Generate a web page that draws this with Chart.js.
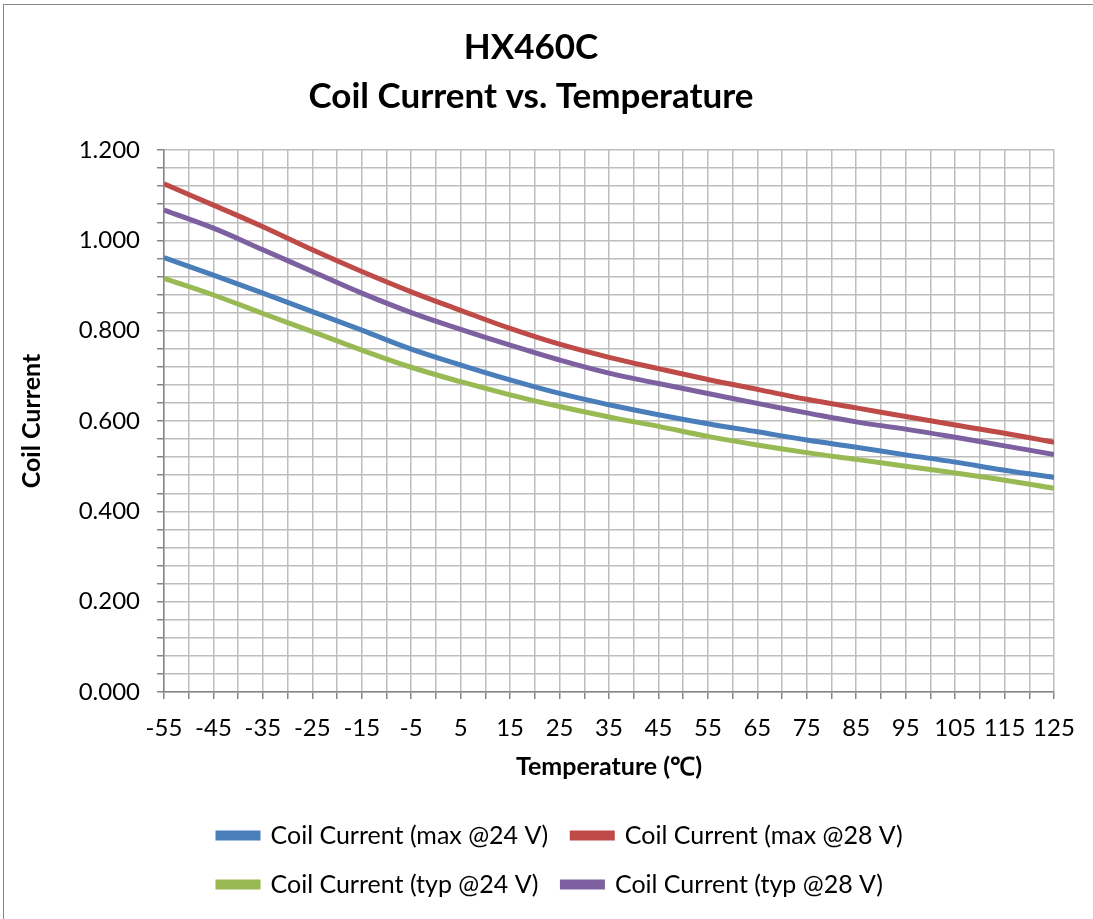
<!DOCTYPE html>
<html>
<head>
<meta charset="utf-8">
<script src="https://cdn.jsdelivr.net/npm/chart.js@4/dist/chart.umd.min.js"></script>
<style>
  html, body { margin: 0; padding: 0; background: #fff; }
  #wrap { position: relative; width: 1093px; height: 919px; }
</style>
</head>
<body>
<div id="wrap"><canvas id="chart" width="1093" height="919"></canvas></div>
<script>
// Temperatures (°C) where values were read
const temps = [-55, -45, -35, -25, -15, -5, 5, 15, 25, 35, 45, 55, 65, 75, 85, 95, 105, 115, 125];

// Coil current readings
const maxAt24 = [0.962, 0.923, 0.883, 0.842, 0.801, 0.759, 0.724, 0.691, 0.661, 0.636, 0.614, 0.594, 0.576, 0.558, 0.542, 0.525, 0.509, 0.491, 0.475];
const maxAt28 = [1.125, 1.078, 1.030, 0.979, 0.931, 0.886, 0.845, 0.805, 0.770, 0.741, 0.716, 0.692, 0.670, 0.648, 0.629, 0.610, 0.591, 0.573, 0.553];
const typAt24 = [0.916, 0.879, 0.838, 0.798, 0.757, 0.719, 0.687, 0.658, 0.632, 0.609, 0.588, 0.566, 0.547, 0.530, 0.515, 0.500, 0.485, 0.469, 0.451];
const typAt28 = [1.067, 1.027, 0.979, 0.931, 0.883, 0.840, 0.803, 0.768, 0.735, 0.706, 0.683, 0.661, 0.639, 0.618, 0.598, 0.582, 0.564, 0.545, 0.526];

const seriesNames = ['Coil Current (max @24 V)', 'Coil Current (max @28 V)', 'Coil Current (typ @24 V)', 'Coil Current (typ @28 V)'];
const seriesColors = ['#4a7ebb', '#be4b48', '#98b954', '#7d60a0'];
const titleLines = ['HX460C', 'Coil Current vs. Temperature'];

const FONT = 'Lato, "Open Sans", sans-serif';
const AXIS = '#868686';
const GRID = '#bdbdbd';

function toPoints(values) {
  return values.map((v, i) => ({ x: temps[i], y: v }));
}

// outer frame of the chart object
const framePlugin = {
  id: 'frame',
  beforeDraw(chart) {
    const { ctx } = chart;
    ctx.save();
    ctx.fillStyle = '#fff';
    ctx.fillRect(0, 0, chart.width, chart.height);
    ctx.strokeStyle = '#888';
    ctx.lineWidth = 1;
    ctx.strokeRect(3.5, 4.5, chart.width + 20, chart.height + 20);
    ctx.restore();
  }
};

// legend rows start at the same x, right of the plot's left edge
const legendShift = {
  id: 'legendShift',
  afterLayout(chart) {
    const lg = chart.legend;
    if (!lg) return;
    lg.left += 186;
    lg.right += 186;
  }
};

new Chart(document.getElementById('chart'), {
  type: 'line',
  data: {
    datasets: [maxAt24, maxAt28, typAt24, typAt28].map((vals, i) => ({
      label: seriesNames[i],
      data: toPoints(vals),
      borderColor: seriesColors[i],
      backgroundColor: seriesColors[i],
      borderWidth: 5,
      pointRadius: 0,
      tension: 0.4,
      fill: false,
    })),
  },
  options: {
    responsive: false,
    animation: false,
    layout: { padding: { left: 8, right: 39, top: 0, bottom: 12 } },
    plugins: {
      title: {
        display: true,
        text: titleLines,
        color: '#000',
        font: { family: FONT, size: 35, weight: 'bold', lineHeight: 1.4 },
        padding: { top: 23, bottom: 29 },
      },
      legend: {
        position: 'bottom',
        align: 'start',
        labels: {
          color: '#000',
          font: { family: FONT, size: 25 },
          boxWidth: 40,
          boxHeight: 5,
          padding: 24,
        },
      },
      tooltip: { enabled: false },
    },
    scales: {
      x: {
        type: 'linear',
        min: -55,
        max: 125,
        grid: { color: GRID, lineWidth: 1.5, tickColor: AXIS, tickLength: 7 },
        border: { color: AXIS, width: 1.5 },
        ticks: {
          stepSize: 5,
          autoSkip: false,
          maxRotation: 0,
          maxTicksLimit: 100,
          padding: 15,
          color: '#000',
          font: { family: FONT, size: 24 },
          callback: (v) => (Math.round(v + 55) % 10 === 0 ? String(v) : ''),
        },
        title: {
          display: true,
          text: 'Temperature (℃)',
          color: '#000',
          font: { family: FONT, size: 25, weight: 'bold' },
          padding: { top: 0, bottom: 17 },
        },
        afterFit: (scale) => { scale.height = 107; },
      },
      y: {
        min: 0,
        max: 1.2,
        grid: { color: GRID, lineWidth: 1.5, tickColor: AXIS, tickLength: 7 },
        border: { color: AXIS, width: 1.5 },
        ticks: {
          stepSize: 0.04,
          autoSkip: false,
          maxTicksLimit: 100,
          padding: 17,
          color: '#000',
          font: { family: FONT, size: 24 },
          callback: (v) => {
            const q = v / 0.2;
            return Math.abs(q - Math.round(q)) < 1e-6 ? v.toFixed(3) : '';
          },
        },
        title: {
          display: true,
          text: 'Coil Current',
          color: '#000',
          font: { family: FONT, size: 25, weight: 'bold' },
          padding: { top: 9, bottom: 0 },
        },
        afterFit: (scale) => { scale.width = 156; },
      },
    },
  },
  plugins: [framePlugin, legendShift],
});
</script>
</body>
</html>
